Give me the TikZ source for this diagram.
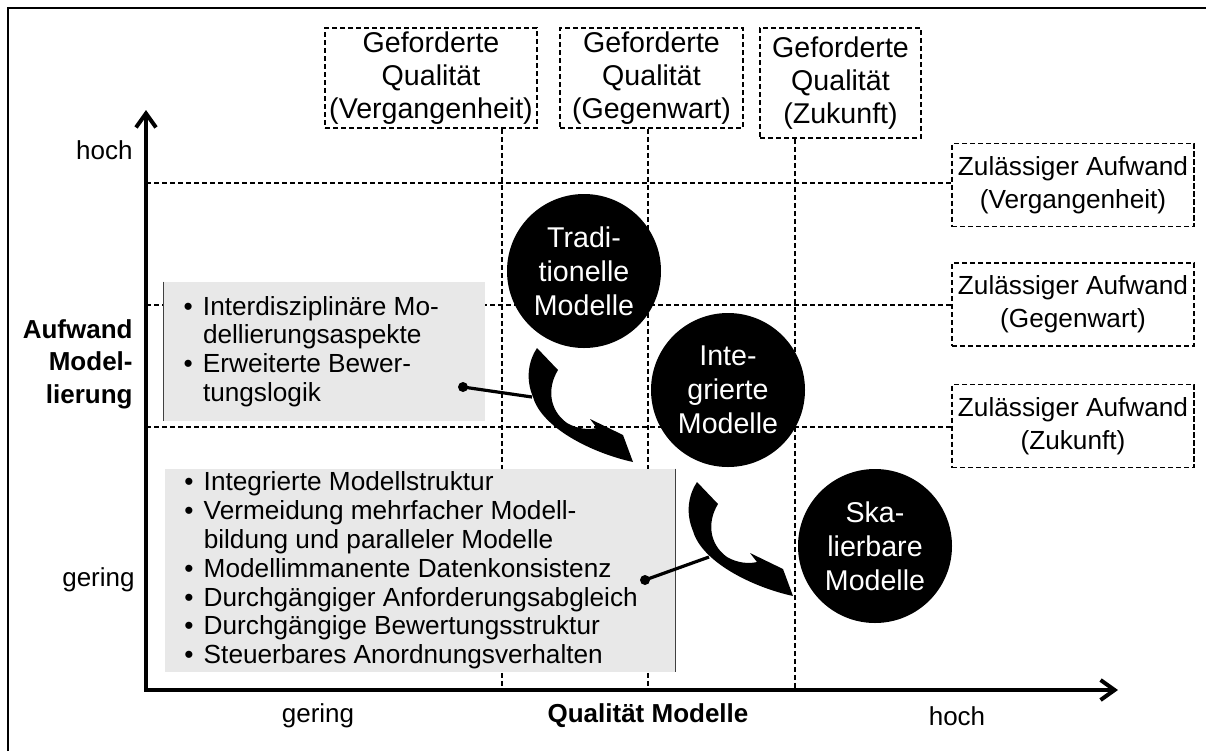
\documentclass[tikz,border=0pt]{standalone}
\usepackage{fontspec}
\setmainfont{Liberation Sans}
\usepackage{tikz}
\usetikzlibrary{arrows.meta}
\definecolor{listgray}{HTML}{E8E8E8}
\newcommand{\listitem}[1]{\par\hangindent=9.75pt\hangafter=1\noindent\makebox[9.75pt][l]{\textbullet}#1}
\tikzset{
    dash-line/.style = {line width=0.95pt, dash pattern=on 2.7pt off 1.3pt},
    quality-box/.style = {dash-line, draw, align=center, inner sep=0pt, font=\fontsize{14.3}{16.5}\selectfont},
    effort-box/.style = {dash-line, draw, align=center, inner sep=0pt, minimum width=121pt, minimum height=41.5pt, font=\fontsize{13.1}{16.5}\selectfont},
    model-circle/.style = {circle, fill=black, text=white, align=center, inner sep=0pt, minimum size=77pt, font=\fontsize{14.3}{17}\selectfont},
    list-box/.style = {fill=listgray, inner xsep=9.75pt, inner ysep=0pt, font=\fontsize{13.1}{14.4}\selectfont},
    axis-label/.style = {inner sep=0pt, font=\fontsize{13}{16.25}\selectfont},
    axis-title/.style = {axis-label, font=\fontsize{13}{16.25}\selectfont\bfseries},
    axis-line/.style = {line width=2pt, {Straight Barb[length=7pt,width=10pt]}-{Straight Barb[length=7pt,width=10pt]}},
    pin-line/.style = {line width=1.6pt},
    model-step/.pic = {
        \fill (0,0) -- (21,22) .. controls (10,40) and (12,62) .. (30,75)
            .. controls (40,81) and (52,82) .. (60,80) -- (53,71) -- (86,87) -- (96,114)
            .. controls (55,105) and (5,80) .. (-4,49)
            .. controls (-12,30) and (-8,12) .. (0,0) -- cycle;
        \coordinate (-upper) at (-5,49);
        \coordinate (-lower) at (12,75);
    },
}

\begin{document}
\begin{tikzpicture}[x=0.5pt, y=-0.5pt]
\useasboundingbox (0,0) rectangle (1206,751);
\draw[line width=1pt] (8,751) |- (1206,8);

% required quality
\node[quality-box, minimum width=106pt, minimum height=50pt] (qual-past) at (431,78) {Geforderte\\Qualität\\(Vergangenheit)};
\node[quality-box, minimum width=91.5pt, minimum height=50pt] (qual-now) at (651.5,78) {Geforderte\\Qualität\\(Gegenwart)};
\node[quality-box, minimum width=80.5pt, minimum height=55pt] (qual-future) at (840.5,83) {Geforderte\\Qualität\\(Zukunft)};

% allowed effort
\node[effort-box] (effort-past) at (1073,185) {Zulässiger Aufwand\\(Vergangenheit)};
\node[effort-box] (effort-now) at (1073,304.5) {Zulässiger Aufwand\\(Gegenwart)};
\node[effort-box] (effort-future) at (1073,426) {Zulässiger Aufwand\\(Zukunft)};

\coordinate (origin) at (146,690);
\coordinate (y-top) at (146,110);
\coordinate (x-end) at (1118,690);
\coordinate (q-past) at (502,690);
\coordinate (q-now) at (648,690);
\coordinate (q-future) at (795,690);
\coordinate (e-past) at (146,183);
\coordinate (e-now) at (146,305);
\coordinate (e-future) at (146,427);

\draw[dash-line] (qual-past.south -| q-past) -- (q-past);
\draw[dash-line] (qual-now.south -| q-now) -- (q-now);
\draw[dash-line] (qual-future.south -| q-future) -- (q-future);
\draw[dash-line] (e-past) -- (e-past -| effort-past.west);
\draw[dash-line] (e-now) -- (e-now -| effort-now.west);
\draw[dash-line] (e-future) -- (e-future -| effort-future.west);

% lists
\node[list-box, minimum height=69.5pt] (aspects) at (324.5,351.5) {\begin{minipage}{141pt}
    \listitem{Interdisziplinäre Mo-\newline dellierungsaspekte}
    \listitem{Erweiterte Bewer-\newline tungslogik}
\end{minipage}};
\draw[line width=0.65pt, black!75] (aspects.north west) -- (aspects.south west);

\node[list-box, minimum height=101.5pt] (measures) at (419.75,570.5) {\begin{minipage}{235.5pt}
    \listitem{Integrierte Modellstruktur}
    \listitem{Vermeidung mehrfacher Modell-\newline bildung und paralleler Modelle}
    \listitem{Modellimmanente Datenkonsistenz}
    \listitem{Durchgängiger Anforderungsabgleich}
    \listitem{Durchgängige Bewertungsstruktur}
    \listitem{Steuerbares Anordnungsverhalten}
\end{minipage}};
\draw[line width=0.65pt, black!75] (measures.north east) -- (measures.south east);

% models
\node[model-circle] (trad) at (584,271) {Tradi-\\tionelle\\Modelle};
\node[model-circle] (integ) at (728,390) {Inte-\\grierte\\Modelle};
\node[model-circle] (scal) at (875,546) {Ska-\\lierbare\\Modelle};

\pic (step-one) at (537,348) {model-step};
\pic (step-two) at (697,482) {model-step};

\coordinate (aspects-dot) at (463,387);
\coordinate (measures-dot) at (645,580);
\draw[pin-line] (aspects-dot) -- (step-one-upper);
\fill (aspects-dot) circle (2.5pt);
\draw[pin-line] (measures-dot) -- (step-two-lower);
\fill (measures-dot) circle (2.5pt);

% axes
\draw[axis-line] (y-top) -- (origin) -- (x-end);
\node[axis-label, anchor=east] (effort-high) at (133,150) {hoch};
\node[axis-label, anchor=east] (effort-low) at (135,580) {gering};
\node[axis-title, anchor=east, align=right] (effort-title) at (133,364) {Aufwand\\Model-\\lierung};
\node[axis-label] (quality-low) at (318,716) {gering};
\node[axis-title] (quality-title) at (648,716) {Qualität Modelle};
\node[axis-label] (quality-high) at (957,716) {hoch};
\end{tikzpicture}
\end{document}
